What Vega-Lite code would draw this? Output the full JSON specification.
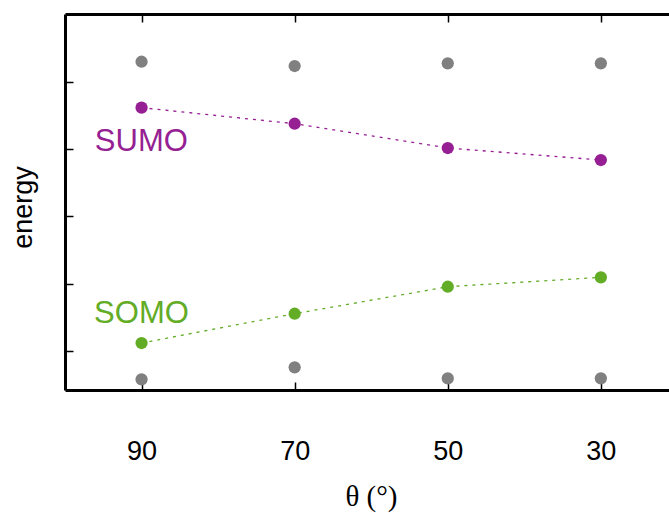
{
  "$schema": "https://vega.github.io/schema/vega-lite/v6.json",
  "autosize": {"type": "none"},
  "padding": {"left": 65, "top": 14, "right": 0, "bottom": 123},
  "width": 604,
  "height": 376,
  "config": {"view": {"stroke": null}, "background": "white"},
  "datasets": {
    "pts": [
      {"theta": 90, "energy": 5.302, "series": "gray"},
      {"theta": 70, "energy": 5.238, "series": "gray"},
      {"theta": 50, "energy": 5.278, "series": "gray"},
      {"theta": 30, "energy": 5.278, "series": "gray"},
      {"theta": 90, "energy": 0.576, "series": "gray2"},
      {"theta": 70, "energy": 0.754, "series": "gray2"},
      {"theta": 50, "energy": 0.591, "series": "gray2"},
      {"theta": 30, "energy": 0.591, "series": "gray2"},
      {"theta": 90, "energy": 4.618, "series": "SUMO"},
      {"theta": 70, "energy": 4.379, "series": "SUMO"},
      {"theta": 50, "energy": 4.018, "series": "SUMO"},
      {"theta": 30, "energy": 3.839, "series": "SUMO"},
      {"theta": 90, "energy": 1.116, "series": "SOMO"},
      {"theta": 70, "energy": 1.552, "series": "SOMO"},
      {"theta": 50, "energy": 1.954, "series": "SOMO"},
      {"theta": 30, "energy": 2.094, "series": "SOMO"}
    ],
    "labels": [
      {"theta": 96.1, "energy": 3.973, "series": "SUMO", "text": "SUMO"},
      {"theta": 96.2, "energy": 1.418, "series": "SOMO", "text": "SOMO"}
    ]
  },
  "layer": [
    {
      "data": {"name": "pts"},
      "transform": [{"filter": "datum.series === 'SUMO' || datum.series === 'SOMO'"}],
      "mark": {"type": "line", "strokeDash": [3, 5], "strokeWidth": 1.3},
      "encoding": {
        "x": {"field": "theta", "type": "quantitative", "scale": {"domain": [100, 21.1], "nice": false, "zero": false},
          "axis": {"orient": "bottom", "values": [90, 70, 50, 30], "domain": true, "domainColor": "black", "domainWidth": 3,
            "ticks": true, "tickSize": -8, "tickWidth": 1.5, "tickColor": "black", "grid": false,
            "labelFont": "Liberation Sans", "labelFontSize": 27, "labelColor": "black", "labelBaseline": "alphabetic",
            "labelPadding": 77, "labelDx": 3, "labelFlush": false,
            "title": "θ (°)", "titleFont": "Liberation Serif", "titleFontSize": 29, "titleFontWeight": "normal",
            "titleColor": "black", "titleX": 306, "titleY": 115, "titleBaseline": "alphabetic", "titleAlign": "center", "titleAnchor": null}},
        "y": {"field": "energy", "type": "quantitative", "scale": {"domain": [0.417, 6.012], "nice": false, "zero": false},
          "axis": {"orient": "left", "values": [1, 2, 3, 4, 5], "domain": true, "domainColor": "black", "domainWidth": 3,
            "ticks": true, "tickSize": -8, "tickWidth": 1.5, "tickColor": "black", "grid": false, "labels": false,
            "title": "energy", "titleFont": "Liberation Sans", "titleFontSize": 27, "titleFontWeight": "normal",
            "titleColor": "black", "titleX": -34, "titleY": 193, "titleBaseline": "alphabetic", "titleAlign": "center", "titleAngle": 270}},
        "color": {"field": "series", "type": "nominal", "legend": null,
          "scale": {"domain": ["SUMO", "SOMO", "gray", "gray2"], "range": ["#951f93", "#63ac26", "#808080", "#808080"]}}
      }
    },
    {
      "data": {"name": "pts"},
      "mark": {"type": "circle", "size": 150, "opacity": 1},
      "encoding": {
        "x": {"field": "theta", "type": "quantitative",
          "axis": {"orient": "top", "values": [90, 70, 50, 30], "domain": true, "domainColor": "black", "domainWidth": 3,
            "ticks": true, "tickSize": -8, "tickWidth": 1.5, "tickColor": "black", "grid": false, "labels": false, "title": null}},
        "y": {"field": "energy", "type": "quantitative", "axis": null},
        "color": {"field": "series", "type": "nominal", "legend": null}
      }
    },
    {
      "data": {"name": "labels"},
      "mark": {"type": "text", "align": "left", "baseline": "alphabetic", "font": "Liberation Sans", "fontSize": 31},
      "encoding": {
        "x": {"field": "theta", "type": "quantitative", "axis": null},
        "y": {"field": "energy", "type": "quantitative", "axis": null},
        "text": {"field": "text"},
        "color": {"field": "series", "type": "nominal", "legend": null}
      }
    }
  ],
  "resolve": {"axis": {"x": "independent", "y": "independent"}}
}
